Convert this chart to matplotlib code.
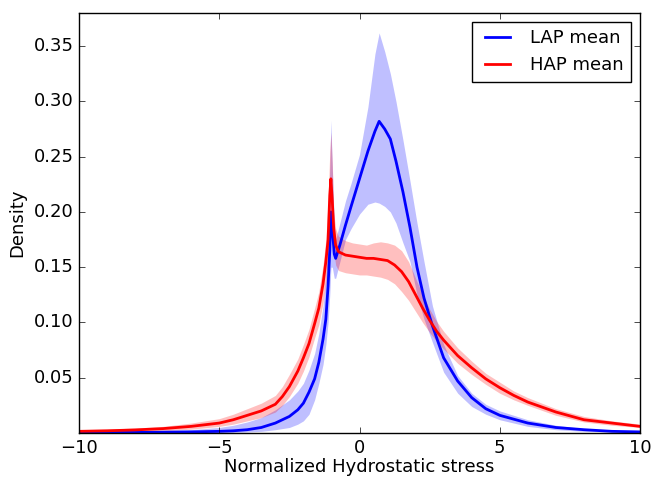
import matplotlib
matplotlib.use("Agg")
import matplotlib.pyplot as plt

# LAP (blue) - mean density and band
x_lap = [-10, -8, -6, -5, -4.5, -4, -3.5, -3, -2.5, -2.2, -2, -1.8, -1.6, -1.45,
         -1.3, -1.2, -1.12, -1.06, -1.02, -0.97, -0.9, -0.85, -0.7, -0.5, -0.3,
         0, 0.3, 0.55, 0.7, 0.9, 1.1, 1.3, 1.55, 1.8, 2.05, 2.3, 2.6, 3.0, 3.5,
         4.0, 4.5, 5, 6, 7, 8, 9, 10]
lap_mean = [0.0003, 0.0005, 0.001, 0.0015, 0.002, 0.003, 0.005, 0.009, 0.015, 0.021,
            0.027, 0.037, 0.049, 0.064, 0.085, 0.103, 0.133, 0.165, 0.200, 0.185,
            0.162, 0.158, 0.170, 0.188, 0.205, 0.230, 0.255, 0.273, 0.282, 0.275,
            0.266, 0.246, 0.218, 0.186, 0.150, 0.122, 0.097, 0.068, 0.047, 0.032,
            0.022, 0.016, 0.009, 0.005, 0.003, 0.0015, 0.001]
lap_upper = [0.001, 0.0015, 0.003, 0.005, 0.007, 0.010, 0.014, 0.021, 0.030, 0.038,
             0.045, 0.057, 0.072, 0.090, 0.115, 0.140, 0.180, 0.240, 0.283, 0.240,
             0.190, 0.175, 0.190, 0.210, 0.226, 0.252, 0.295, 0.343, 0.362, 0.345,
             0.325, 0.300, 0.265, 0.228, 0.190, 0.155, 0.115, 0.080, 0.052, 0.036,
             0.026, 0.020, 0.012, 0.007, 0.004, 0.002, 0.0015]
lap_lower = [0.0, 0.0, 0.0, 0.0003, 0.0005, 0.001, 0.0015, 0.003, 0.005, 0.008,
             0.011, 0.017, 0.030, 0.045, 0.062, 0.080, 0.100, 0.125, 0.150, 0.150,
             0.140, 0.140, 0.155, 0.175, 0.185, 0.198, 0.207, 0.209, 0.208, 0.205,
             0.200, 0.190, 0.172, 0.155, 0.125, 0.103, 0.082, 0.055, 0.036, 0.024,
             0.017, 0.012, 0.006, 0.003, 0.0015, 0.001, 0.0005]

# HAP (red)
x_hap = [-10, -9, -8, -7, -6, -5, -4.5, -4, -3.5, -3, -2.75, -2.5, -2.2, -2, -1.8,
         -1.6, -1.45, -1.3, -1.2, -1.12, -1.06, -1.02, -0.97, -0.92, -0.85, -0.75,
         -0.5, -0.25, 0, 0.25, 0.5, 0.75, 1.0, 1.25, 1.5, 1.75, 2.0, 2.25, 2.5,
         2.75, 3.0, 3.5, 4, 4.5, 5, 5.5, 6, 7, 8, 9, 10]
hap_mean = [0.0015, 0.002, 0.0028, 0.004, 0.006, 0.009, 0.012, 0.016, 0.020, 0.026,
            0.033, 0.042, 0.056, 0.068, 0.081, 0.099, 0.113, 0.135, 0.155, 0.175,
            0.215, 0.230, 0.210, 0.185, 0.170, 0.164, 0.161, 0.160, 0.159, 0.158,
            0.158, 0.157, 0.156, 0.152, 0.146, 0.137, 0.125, 0.113, 0.102, 0.092,
            0.084, 0.070, 0.059, 0.049, 0.041, 0.034, 0.028, 0.019, 0.012, 0.009,
            0.006]
hap_upper = [0.003, 0.0035, 0.0045, 0.006, 0.009, 0.013, 0.017, 0.022, 0.027, 0.034,
             0.042, 0.053, 0.067, 0.080, 0.094, 0.113, 0.128, 0.152, 0.175, 0.210,
             0.255, 0.272, 0.245, 0.200, 0.185, 0.178, 0.174, 0.172, 0.171, 0.170,
             0.172, 0.173, 0.172, 0.170, 0.165, 0.155, 0.140, 0.125, 0.112, 0.101,
             0.092, 0.077, 0.065, 0.054, 0.046, 0.038, 0.032, 0.022, 0.015, 0.011,
             0.008]
hap_lower = [0.0005, 0.001, 0.0015, 0.002, 0.0035, 0.006, 0.008, 0.011, 0.014, 0.019,
             0.025, 0.033, 0.045, 0.056, 0.069, 0.086, 0.098, 0.118, 0.135, 0.155,
             0.180, 0.200, 0.180, 0.165, 0.152, 0.147, 0.145, 0.144, 0.143, 0.143,
             0.142, 0.141, 0.139, 0.135, 0.128, 0.120, 0.110, 0.100, 0.091, 0.083,
             0.076, 0.063, 0.053, 0.044, 0.036, 0.030, 0.025, 0.016, 0.010, 0.007,
             0.005]

y_ticks = [0.05, 0.10, 0.15, 0.20, 0.25, 0.30, 0.35]
x_ticks = [-10, -5, 0, 5, 10]

plt.style.use("classic")
plt.rcParams["figure.facecolor"] = "white"
plt.rcParams["font.size"] = 13

fig = plt.figure(figsize=(6.54, 4.8), dpi=100)
ax = fig.add_axes([0.1208, 0.0979, 0.8578, 0.8750])

ax.fill_between(x_lap, lap_lower, lap_upper, color="blue", alpha=0.25, lw=0)
ax.fill_between(x_hap, hap_lower, hap_upper, color="red", alpha=0.25, lw=0)
ax.plot(x_lap, lap_mean, color="blue", lw=2, label="LAP mean")
ax.plot(x_hap, hap_mean, color="red", lw=2, label="HAP mean")

ax.set_xlim(-10, 10)
ax.set_ylim(0, 0.38)
ax.set_xticks(x_ticks)
ax.set_yticks(y_ticks)
ax.tick_params(labelsize=13)
ax.set_xlabel("Normalized Hydrostatic stress", fontsize=13, labelpad=1)
ax.set_ylabel("Density", fontsize=13)
ax.legend(loc="upper right", fontsize=13, numpoints=2)

fig.savefig("out.png", dpi=100, facecolor="white")
